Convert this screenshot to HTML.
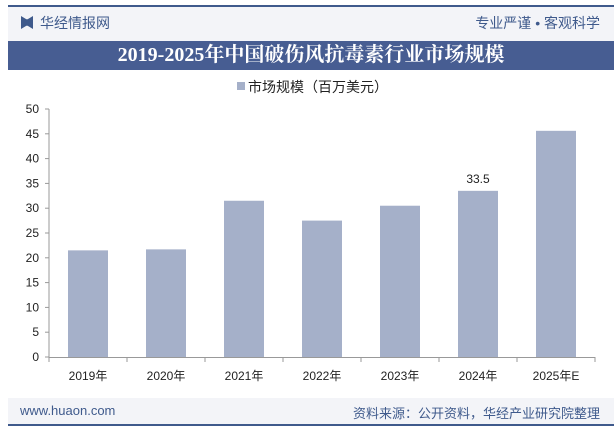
<!DOCTYPE html>
<html><head><meta charset="utf-8"><style>
body{margin:0;width:614px;height:428px;overflow:hidden;background:#fff;font-family:"Liberation Sans","Noto Sans CJK SC",sans-serif;position:relative}
.abs{position:absolute}
</style></head><body>
<div class="abs" style="left:8px;top:5px;width:606px;height:2px;background:#3f5a8c"></div>
<div class="abs" style="left:8px;top:7px;width:606px;height:34px;background:#f3f4f8"></div>
<div class="abs" style="left:21px;top:16px;width:12px;height:13px;background:#3f5a8c;clip-path:polygon(0 0,45% 25%,55% 25%,100% 0,100% 100%,55% 75%,45% 75%,0 100%)"></div>
<div class="abs" style="left:40px;top:13px;font-size:14px;color:#3f5a8c">华经情报网</div>
<div class="abs" style="right:14px;top:13px;font-size:14px;color:#3f5a8c">专业严谨 • 客观科学</div>
<div class="abs" style="left:8px;top:41px;width:606px;height:29px;background:#475d92;color:#fff;font-family:'Liberation Serif','Noto Serif CJK SC',serif;font-weight:bold;font-size:20px;line-height:29px;text-align:center">2019-2025年中国破伤风抗毒素行业市场规模</div>
<svg class="abs" style="left:0;top:0" width="614" height="428">
<g id="g"></g></svg>
<div class="abs" style="left:8px;top:398px;width:606px;height:27px;background:#f3f4f8"></div>
<div class="abs" style="left:8px;top:424px;width:606px;height:2px;background:#3f5a8c"></div>
<div class="abs" style="left:20px;top:403px;font-size:13px;color:#3f5a8c">www.huaon.com</div>
<div class="abs" style="right:14px;top:403px;font-size:13px;color:#3f5a8c">资料来源：公开资料，华经产业研究院整理</div>
<script>
const categories=["2019年","2020年","2021年","2022年","2023年","2024年","2025年E"];
const values=[21.5,21.7,31.5,27.5,30.5,33.5,45.6];
const labels=[null,null,null,null,null,"33.5",null];
const yTicks=[0,5,10,15,20,25,30,35,40,45,50];
const g=document.getElementById('g');const NS='http://www.w3.org/2000/svg';
const x0=49,x1=595,y0=357,y1=109,ymax=50;
const bw=(x1-x0)/categories.length;
const Y=v=>y0-(v/ymax)*(y0-y1);
function mk(t,a,txt){const e=document.createElementNS(NS,t);for(const k in a)e.setAttribute(k,a[k]);if(txt!=null)e.textContent=txt;g.appendChild(e);return e;}
let e;
e=mk('rect',{x:237,y:82,width:8,height:8,fill:'#a5b0c9'});


e=mk('text',{x:248,y:92,'font-size':14,fill:'#222'},'市场规模（百万美元）');


yTicks.forEach(v=>{e=mk('text',{x:39,y:Y(v)+4,'font-size':12,fill:'#222','text-anchor':'end'},String(v));


mk('line',{x1:45,x2:49,y1:Y(v),y2:Y(v),stroke:'#999'});});
mk('line',{x1:49,x2:49,y1:y1,y2:y0,stroke:'#999'});
mk('line',{x1:x0,x2:x1,y1:y0+0.5,y2:y0+0.5,stroke:'#999'});
categories.forEach((c,i)=>{const cx=x0+bw*(i+0.5);
e=mk('rect',{x:cx-20,y:Y(values[i]),width:40,height:y0-Y(values[i]),fill:'#a5b0c9'});


mk('line',{x1:x0+bw*i,x2:x0+bw*i,y1:y0,y2:y0+5,stroke:'#999'});
e=mk('text',{x:cx,y:380,'font-size':12,fill:'#222','text-anchor':'middle'},c);


if(labels[i]){e=mk('text',{x:cx,y:Y(values[i])-8,'font-size':12,fill:'#222','text-anchor':'middle'},labels[i]);

}});
mk('line',{x1:x1,x2:x1,y1:y0,y2:y0+5,stroke:'#999'});
</script>
</body></html>
